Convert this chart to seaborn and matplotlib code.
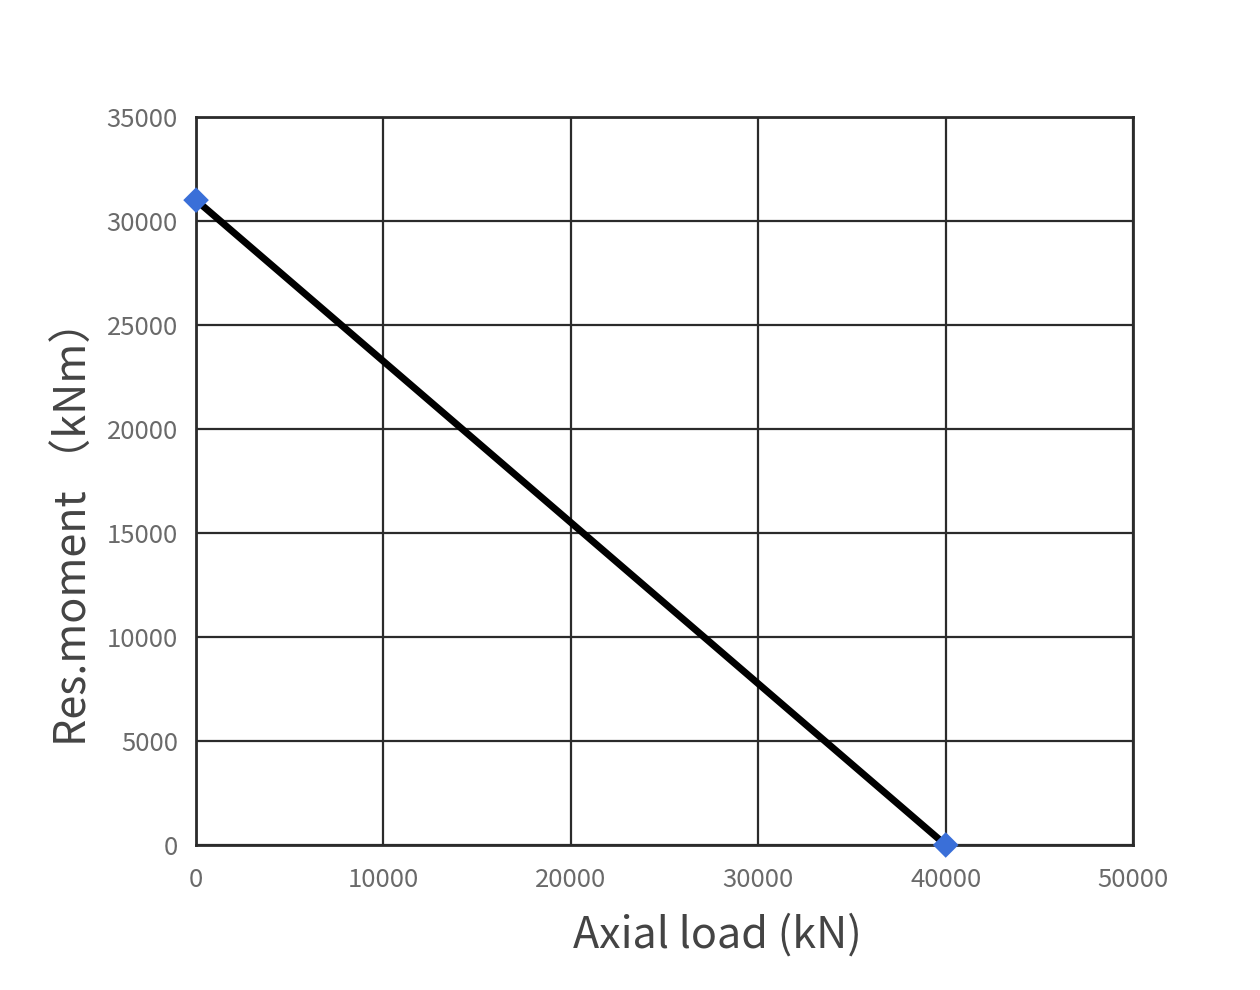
import matplotlib
matplotlib.use("Agg")
import matplotlib.pyplot as plt
import pandas as pd
import seaborn as sns

axial_load = [0, 40000]
res_moment = [31000, 0]
x_ticks = [0, 10000, 20000, 30000, 40000, 50000]
y_ticks = [0, 5000, 10000, 15000, 20000, 25000, 30000, 35000]

sns.set_theme(style="white")
plt.rcParams["font.family"] = ["Noto Sans CJK SC", "DejaVu Sans"]

df = pd.DataFrame({"axial": axial_load, "moment": res_moment})

fig = plt.figure(figsize=(12.6, 9.9), dpi=100)
ax = fig.add_axes([0.1556, 0.1465, 0.7437, 0.7354])

sns.lineplot(data=df, x="axial", y="moment", color="black", lw=5, ax=ax, zorder=3)
sns.scatterplot(data=df, x="axial", y="moment", marker="D", s=170, color="#3a6fd8",
                edgecolor="none", ax=ax, zorder=4, clip_on=False)

ax.set_xlim(0, 50000)
ax.set_ylim(0, 35000)
ax.set_xticks(x_ticks)
ax.set_yticks(y_ticks)
ax.grid(True, color="#2b2b2b", lw=1.6)
for s in ax.spines.values():
    s.set_color("#2b2b2b")
    s.set_linewidth(2)
ax.tick_params(axis="both", length=0, labelsize=18.5, labelcolor="#6a6a6a")
ax.tick_params(axis="x", pad=16)
ax.tick_params(axis="y", pad=13)

ax.set_xlabel("Axial load (kN)", fontsize=31, color="#444444")
ax.set_ylabel("Res.moment （kNm）", fontsize=31, color="#444444")
ax.xaxis.set_label_coords(0.556, -0.094)
ax.yaxis.set_label_coords(-0.106, 0.442)

fig.savefig("out.png", dpi=100)
